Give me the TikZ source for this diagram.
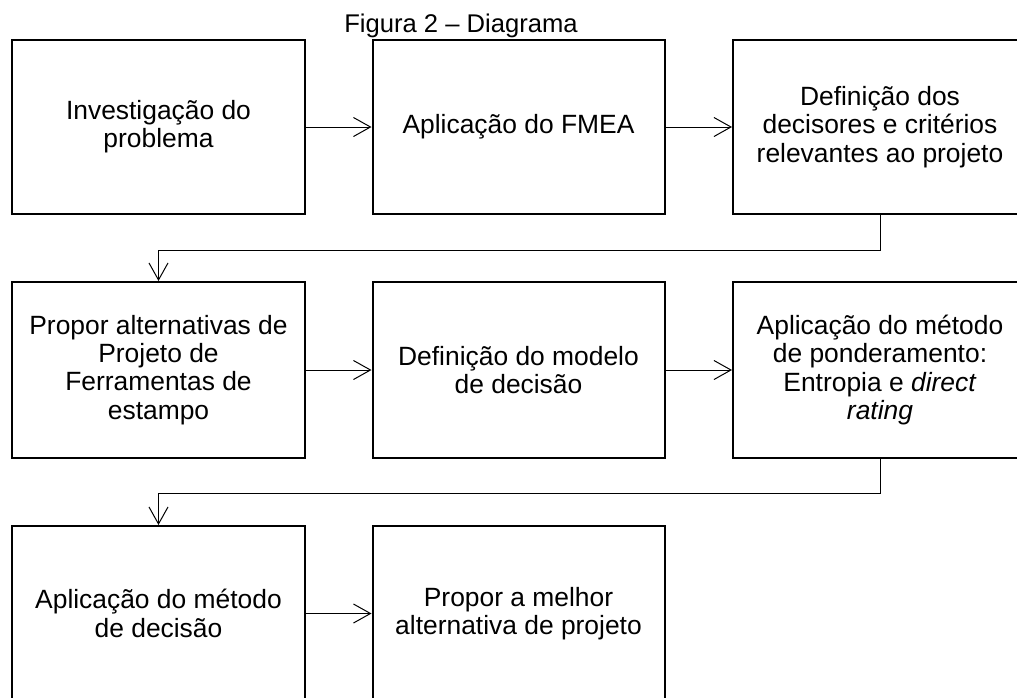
\documentclass[tikz,border=0pt]{standalone}
\usepackage{fontspec}
\setmainfont{Liberation Sans}
\usetikzlibrary{arrows.meta}
\begin{document}
\begin{tikzpicture}[x=1pt,y=-1pt,
  stepbox/.style={draw,line width=2pt,inner sep=0pt,align=center,
    font=\fontsize{26.4}{28.3}\selectfont},
  arr/.style={line width=1pt,-{Straight Barb[length=17pt,width=19pt,line width=1pt]}},
  conn/.style={line width=1pt}]
\useasboundingbox (0,0) rectangle (1017,697);
\clip (0,0) rectangle (1017,697);
\fill[white] (0,0) rectangle (1017,697);
\node[font=\fontsize{25.6}{28}\selectfont,anchor=base] (title) at (461,32) {Figura 2 – Diagrama};
% row 1
\node[stepbox,minimum width=293pt,minimum height=174pt] (b1) at (158.5,127) {Investigação do\\problema};
\node[stepbox,minimum width=292pt,minimum height=174pt] (b2) at (518.5,127) {Aplicação do FMEA};
\node[stepbox,minimum width=294pt,minimum height=174pt] (b3) at (880,127) {Definição dos\\decisores e critérios\\relevantes ao projeto};
% row 2
\node[stepbox,minimum width=293pt,minimum height=176pt] (b4) at (158.5,370) {Propor alternativas de\\Projeto de\\Ferramentas de\\estampo};
\node[stepbox,minimum width=292pt,minimum height=176pt] (b5) at (518.5,370) {Definição do modelo\\de decisão};
\node[stepbox,minimum width=294pt,minimum height=176pt] (b6) at (880,370) {Aplicação do método\\de ponderamento:\\Entropia e \textit{direct}\\\textit{rating}};
% row 3
\node[stepbox,minimum width=293pt,minimum height=175pt] (b7) at (158.5,613.5) {Aplicação do método\\de decisão};
\node[stepbox,minimum width=292pt,minimum height=175pt] (b8) at (518.5,613.5) {Propor a melhor\\alternativa de projeto};
% connectors
\draw[arr] (b1.east) -- (b2.west);
\draw[arr] (b2.east) -- (b3.west);
\draw[arr] (b3.south) -- ++(0,35) -| (b4.north);
\draw[arr] (b4.east) -- (b5.west);
\draw[arr] (b5.east) -- (b6.west);
\draw[arr] (b6.south) -- ++(0,34) -| (b7.north);
\draw[arr] (b7.east) -- (b8.west);
\end{tikzpicture}
\end{document}
